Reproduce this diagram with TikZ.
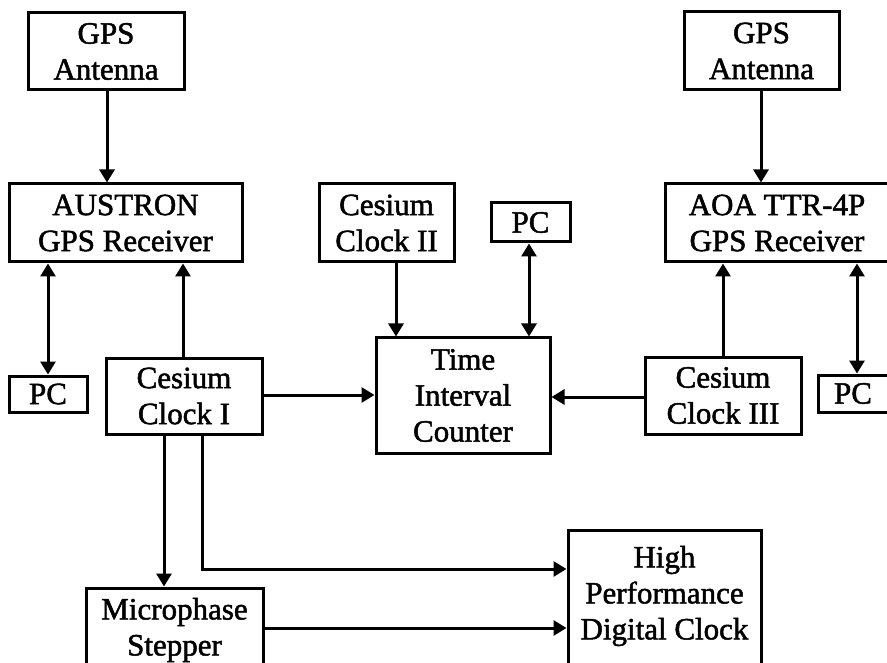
\documentclass[tikz,border=0pt]{standalone}
\usepackage{fontspec}
\setmainfont{Liberation Serif}[BoldFont=Liberation Serif, BoldFeatures={FakeBold=1.6}]
\usetikzlibrary{arrows.meta}
\tikzset{
  box/.style={draw, line width=3pt, inner sep=0pt, align=center, font=\fontsize{31}{36}\selectfont\bfseries},
  txt/.style={inner sep=0pt, align=center, font=\fontsize{31}{36}\selectfont\bfseries},
  arr/.style={line width=3pt, -{Triangle[length=13pt,width=15pt]}},
  darr/.style={line width=3pt, {Triangle[length=13pt,width=15pt]}-{Triangle[length=13pt,width=15pt]}}
}
\newcommand\bx[6]{\node[box, minimum width={#4-#2}, minimum height={#5-#3}] (#1) at ({(#2+#4)/2},{(#3+#5)/2}) {#6};}
\begin{document}
\begin{tikzpicture}[x=1pt,y=-1pt]
\useasboundingbox (0,0) rectangle (887,663);
\clip (0,0) rectangle (887,663);
\fill[white] (0,0) rectangle (887,663);
\bx{antL}{28}{13}{184}{90}{GPS\\Antenna}
\bx{austron}{9}{184}{242}{262}{AUSTRON\\GPS Receiver}
\bx{pcL}{9}{376}{87}{412}{PC}
\bx{clkA}{106}{358}{262}{434}{Cesium\\Clock I}
\bx{clkB}{319}{184}{454}{262}{Cesium\\Clock II}
\bx{pcM}{491}{203}{570}{242}{PC}
\bx{tic}{376}{338}{550}{453}{Time\\Interval\\Counter}
\bx{antR}{684}{12}{839}{90}{GPS\\Antenna}
\bx{aoa}{665}{184}{889}{262}{AOA TTR-4P\\GPS Receiver}
\bx{clkC}{645}{357}{801}{434}{Cesium\\Clock III}
\bx{pcR}{818}{375}{888}{412}{PC}
\bx{micro}{86}{588}{263}{672}{Microphase\\Stepper}
\bx{hpdc}{568}{530}{761}{700}{}
\node[txt] (hpdct) at (664.5,596) {High\\Performance\\Digital Clock};
\coordinate (c107) at (107,0);
\coordinate (c183) at (183,0);
\coordinate (c48) at (48,0);
\coordinate (c164) at (164,0);
\coordinate (c202) at (202,0);
\coordinate (c396) at (396,0);
\coordinate (c529) at (529,0);
\coordinate (c761) at (761,0);
\coordinate (c723) at (723,0);
\coordinate (c857) at (857,0);
\coordinate (r395) at (0,395);
\coordinate (r397) at (0,397);
\coordinate (r569) at (0,569);
\coordinate (r628) at (0,628);
\draw[arr] (antL.south -| c107) -- (austron.north -| c107);
\draw[arr] (clkA.north -| c183) -- (austron.south -| c183);
\draw[darr] (austron.south -| c48) -- (pcL.north -| c48);
\draw[arr] (clkA.east |- r395) -- (tic.west |- r395);
\draw[arr] (clkB.south -| c396) -- (tic.north -| c396);
\draw[darr] (pcM.south -| c529) -- (tic.north -| c529);
\draw[arr] (clkC.west |- r397) -- (tic.east |- r397);
\draw[arr] (antR.south -| c761) -- (aoa.north -| c761);
\draw[arr] (clkC.north -| c723) -- (aoa.south -| c723);
\draw[darr] (aoa.south -| c857) -- (pcR.north -| c857);
\draw[arr] (clkA.south -| c164) -- (micro.north -| c164);
\draw[arr] (clkA.south -| c202) -- (c202 |- r569) -- (hpdc.west |- r569);
\draw[arr] (micro.east |- r628) -- (hpdc.west |- r628);
\end{tikzpicture}
\end{document}
